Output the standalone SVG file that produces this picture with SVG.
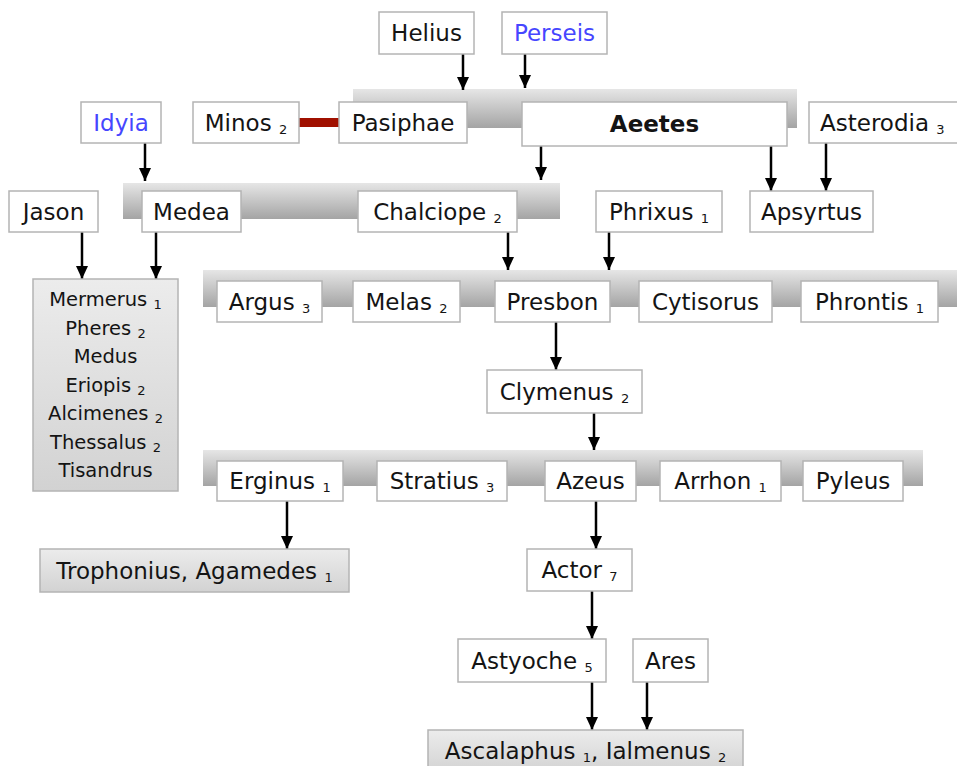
<svg xmlns="http://www.w3.org/2000/svg" width="957" height="766" viewBox="0 0 957 766">
  <defs>
    <linearGradient id="barGrad" x1="0" y1="0" x2="0" y2="1">
      <stop offset="0" stop-color="#e6e6e6"/>
      <stop offset="1" stop-color="#a4a4a4"/>
    </linearGradient>
    <linearGradient id="groupGrad" x1="0" y1="0" x2="0" y2="1">
      <stop offset="0" stop-color="#ececec"/>
      <stop offset="1" stop-color="#d2d2d2"/>
    </linearGradient>
    <marker id="arrow" markerUnits="userSpaceOnUse" markerWidth="14" markerHeight="12" refX="13" refY="6" orient="auto" viewBox="0 0 14 12">
      <path d="M0,0 L13,6 L0,12 Z" fill="#000"/>
    </marker>
    <style>
      .bar { fill: url(#barGrad); }
      .box { fill: #fff; stroke: #b4b4b4; stroke-width: 1.5; }
      .gbox { fill: url(#groupGrad); stroke: #b4b4b4; stroke-width: 1.5; }
      .lbl { font-family: "DejaVu Sans", Verdana, sans-serif; font-size: 23px; fill: #141414; text-anchor: middle; }
      .blue { fill: #4646ff; }
      .bold { font-weight: bold; }
      .sub { font-size: 13px; }
      .list { font-family: "DejaVu Sans", Verdana, sans-serif; font-size: 19.5px; fill: #141414; text-anchor: middle; }
      .conn line { stroke: #000; stroke-width: 2.5; }
    </style>
  </defs>
  <rect width="957" height="766" fill="#fff"/>

  <!-- sibling bars -->
  <g id="bars">
    <rect class="bar" x="353" y="89" width="444" height="39"/>
    <rect class="bar" x="123" y="183" width="437" height="36"/>
    <rect class="bar" x="203" y="270" width="754" height="37"/>
    <rect class="bar" x="203" y="450" width="720" height="36"/>
  </g>

  <!-- connectors -->
  <g id="connectors" class="conn">
    <line x1="463" y1="54" x2="463" y2="90" marker-end="url(#arrow)"/>
    <line x1="525" y1="54" x2="525" y2="88" marker-end="url(#arrow)"/>
    <line x1="145" y1="143" x2="145" y2="181" marker-end="url(#arrow)"/>
    <line x1="541" y1="146" x2="541" y2="180" marker-end="url(#arrow)"/>
    <line x1="771" y1="146" x2="771" y2="191" marker-end="url(#arrow)"/>
    <line x1="826" y1="143" x2="826" y2="191" marker-end="url(#arrow)"/>
    <line x1="82" y1="232" x2="82" y2="279" marker-end="url(#arrow)"/>
    <line x1="156" y1="232" x2="156" y2="279" marker-end="url(#arrow)"/>
    <line x1="508" y1="232" x2="508" y2="270" marker-end="url(#arrow)"/>
    <line x1="609" y1="232" x2="609" y2="270" marker-end="url(#arrow)"/>
    <line x1="556" y1="322" x2="556" y2="370" marker-end="url(#arrow)"/>
    <line x1="594" y1="413" x2="594" y2="450" marker-end="url(#arrow)"/>
    <line x1="287" y1="501" x2="287" y2="549" marker-end="url(#arrow)"/>
    <line x1="596" y1="501" x2="596" y2="549" marker-end="url(#arrow)"/>
    <line x1="592" y1="591" x2="592" y2="639" marker-end="url(#arrow)"/>
    <line x1="592" y1="682" x2="592" y2="730" marker-end="url(#arrow)"/>
    <line x1="647" y1="682" x2="647" y2="730" marker-end="url(#arrow)"/>
    <!-- marriage link -->
    <rect x="299" y="118" width="40" height="9" fill="#a01000"/>
  </g>

  <!-- row 1 -->
  <g id="helius"><rect class="box" x="379" y="12" width="95" height="42"/><text class="lbl" x="426.5" y="41">Helius</text></g>
  <g id="perseis"><rect class="box" x="502" y="12" width="105" height="42"/><text class="lbl blue" x="554.5" y="41">Perseis</text></g>

  <!-- row 2 -->
  <g id="idyia"><rect class="box" x="81" y="102" width="80" height="41"/><text class="lbl blue" x="121" y="131">Idyia</text></g>
  <g id="minos"><rect class="box" x="193" y="102" width="106" height="41"/><text class="lbl" x="246" y="131">Minos <tspan class="sub" dy="3">2</tspan></text></g>
  <g id="pasiphae"><rect class="box" x="339" y="102" width="128" height="41"/><text class="lbl" x="403" y="131">Pasiphae</text></g>
  <g id="aeetes"><rect class="box" x="522" y="102" width="265" height="44"/><text class="lbl bold" x="654.5" y="132">Aeetes</text></g>
  <g id="asterodia"><rect class="box" x="809" y="102" width="160" height="41"/><text class="lbl" x="820" y="131" style="text-anchor:start">Asterodia <tspan class="sub" dy="3">3</tspan></text></g>

  <!-- row 3 -->
  <g id="jason"><rect class="box" x="9" y="191" width="89" height="41"/><text class="lbl" x="53.5" y="220">Jason</text></g>
  <g id="medea"><rect class="box" x="142" y="191" width="99" height="41"/><text class="lbl" x="191.5" y="220">Medea</text></g>
  <g id="chalciope"><rect class="box" x="358" y="191" width="159" height="41"/><text class="lbl" x="437.5" y="220">Chalciope <tspan class="sub" dy="3">2</tspan></text></g>
  <g id="phrixus"><rect class="box" x="596" y="191" width="126" height="41"/><text class="lbl" x="659" y="220">Phrixus <tspan class="sub" dy="3">1</tspan></text></g>
  <g id="apsyrtus"><rect class="box" x="750" y="191" width="123" height="41"/><text class="lbl" x="811.5" y="220">Apsyrtus</text></g>

  <!-- children of Jason and Medea -->
  <g id="jason-medea-children">
    <rect class="gbox" x="33" y="279" width="145" height="212"/>
    <text class="list" x="105.5" y="306">Mermerus <tspan class="sub" dy="3">1</tspan></text>
    <text class="list" x="105.5" y="334.5">Pheres <tspan class="sub" dy="3">2</tspan></text>
    <text class="list" x="105.5" y="363">Medus</text>
    <text class="list" x="105.5" y="391.5">Eriopis <tspan class="sub" dy="3">2</tspan></text>
    <text class="list" x="105.5" y="420">Alcimenes <tspan class="sub" dy="3">2</tspan></text>
    <text class="list" x="105.5" y="448.5">Thessalus <tspan class="sub" dy="3">2</tspan></text>
    <text class="list" x="105.5" y="477">Tisandrus</text>
  </g>

  <!-- row 4 -->
  <g id="argus"><rect class="box" x="217" y="281" width="105" height="41"/><text class="lbl" x="269.5" y="310">Argus <tspan class="sub" dy="3">3</tspan></text></g>
  <g id="melas"><rect class="box" x="353" y="281" width="107" height="41"/><text class="lbl" x="406.5" y="310">Melas <tspan class="sub" dy="3">2</tspan></text></g>
  <g id="presbon"><rect class="box" x="495" y="281" width="115" height="41"/><text class="lbl" x="552.5" y="310">Presbon</text></g>
  <g id="cytisorus"><rect class="box" x="639" y="281" width="133" height="41"/><text class="lbl" x="705.5" y="310">Cytisorus</text></g>
  <g id="phrontis"><rect class="box" x="801" y="281" width="137" height="41"/><text class="lbl" x="869.5" y="310">Phrontis <tspan class="sub" dy="3">1</tspan></text></g>

  <g id="clymenus"><rect class="box" x="487" y="370" width="155" height="43"/><text class="lbl" x="564.5" y="400">Clymenus <tspan class="sub" dy="3">2</tspan></text></g>

  <!-- row 5 -->
  <g id="erginus"><rect class="box" x="217" y="461" width="126" height="40"/><text class="lbl" x="280" y="489">Erginus <tspan class="sub" dy="3">1</tspan></text></g>
  <g id="stratius"><rect class="box" x="377" y="461" width="130" height="40"/><text class="lbl" x="442" y="489">Stratius <tspan class="sub" dy="3">3</tspan></text></g>
  <g id="azeus"><rect class="box" x="545" y="461" width="91" height="40"/><text class="lbl" x="590.5" y="489">Azeus</text></g>
  <g id="arrhon"><rect class="box" x="660" y="461" width="121" height="40"/><text class="lbl" x="720.5" y="489">Arrhon <tspan class="sub" dy="3">1</tspan></text></g>
  <g id="pyleus"><rect class="box" x="803" y="461" width="100" height="40"/><text class="lbl" x="853" y="489">Pyleus</text></g>

  <g id="trophonius-agamedes"><rect class="gbox" x="40" y="549" width="309" height="43"/><text class="lbl" x="194.5" y="579">Trophonius, Agamedes <tspan class="sub" dy="3">1</tspan></text></g>
  <g id="actor"><rect class="box" x="527" y="549" width="105" height="42"/><text class="lbl" x="579.5" y="578">Actor <tspan class="sub" dy="3">7</tspan></text></g>

  <g id="astyoche"><rect class="box" x="458" y="639" width="148" height="43"/><text class="lbl" x="532" y="669">Astyoche <tspan class="sub" dy="3">5</tspan></text></g>
  <g id="ares"><rect class="box" x="633" y="639" width="75" height="43"/><text class="lbl" x="670.5" y="669">Ares</text></g>

  <g id="ascalaphus-ialmenus"><rect class="gbox" x="428" y="730" width="315" height="44"/><text class="lbl" x="585.5" y="759">Ascalaphus <tspan class="sub" dy="3">1</tspan><tspan dy="-3">, Ialmenus </tspan><tspan class="sub" dy="3">2</tspan></text></g>
</svg>
